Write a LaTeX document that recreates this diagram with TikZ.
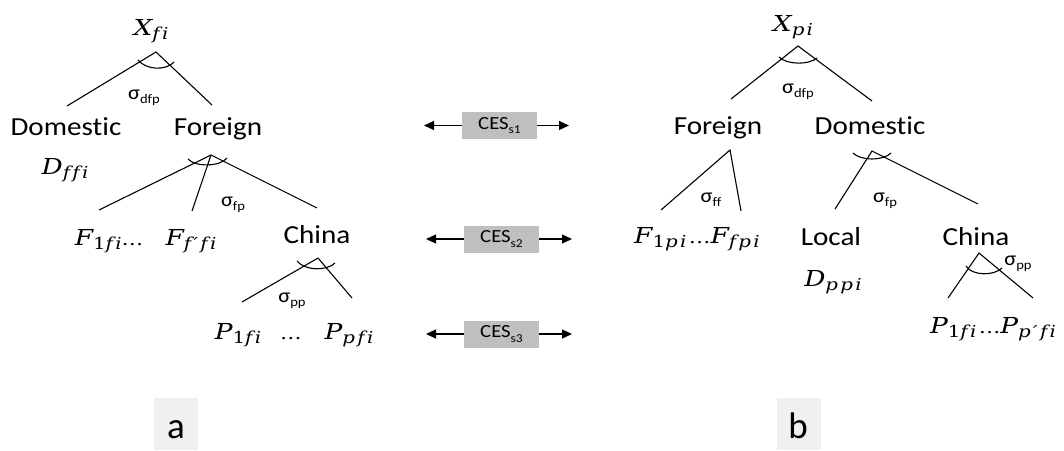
\documentclass[tikz,border=0pt]{standalone}
\usepackage{graphicx}
\usepackage{fontspec}
\setmainfont{Carlito}[FakeStretch=1.12, Ligatures=NoCommon]
\newfontfamily\plainfont{Carlito}
\newfontfamily\dvs{DejaVu Serif}[FakeStretch=1.2, Ligatures=NoCommon]
\newfontfamily\dvsub{DejaVu Serif}[FakeStretch=1.2, Ligatures=NoCommon, LetterSpace=14]
\usetikzlibrary{arrows.meta}
\definecolor{boxgray}{RGB}{191,191,191}
\definecolor{labgray}{RGB}{240,240,240}
\newcommand\mif{\dvs\itshape\fontsize{22}{22}\selectfont}
\newcommand\msub{\dvsub\itshape\fontsize{16.5}{16.5}\selectfont}
\newcommand\mv[2]{{\mif #1\raisebox{-0.22em}{\msub #2}}}
\newcommand\mdots{{\dvs\fontsize{18}{18}\selectfont\ldots}}
\newcommand\sg[1]{{\fontsize{20}{20}\selectfont σ\raisebox{-0.2em}{\fontsize{13}{13}\selectfont #1}}}
\newcommand\ces[1]{{\fontsize{18.5}{18.5}\selectfont CES\raisebox{-0.25em}{\fontsize{12}{12}\selectfont #1}}}
\tikzset{
  txt/.style={inner sep=0pt, anchor=base, font=\fontsize{26}{28}\selectfont},
  mth/.style={inner sep=0pt, anchor=base},
  sgl/.style={inner sep=0pt, anchor=base},
  cesbox/.style={fill=boxgray, minimum width=75pt, minimum height=27pt, inner sep=0pt},
  arr/.style={-{Triangle[length=10pt,width=9pt]}, line width=1.1pt},
  branch/.style={line width=1.1pt},
  labbox/.style={fill=labgray, minimum width=44pt, minimum height=52pt, inner sep=0pt},
  labtxt/.style={inner sep=0pt, anchor=base, font=\plainfont\fontsize{37}{40}\selectfont}
}
\begin{document}
\begin{tikzpicture}[x=1pt,y=-1pt]
\useasboundingbox (0,0) rectangle (1064,450);
\fill[white] (0,0) rectangle (1064,450);

% ---------- left tree ----------
\node[mth] (Xf) at (151,35) {\mv{X}{fi}};
\node[txt] (domL) at (66,135) {Domestic};
\node[txt] (forL) at (218,135) {Foreign};
\node[mth] (Dff) at (65,174) {\mv{D}{ffi}};
\node[mth] (F1f) at (109,245) {\mv{F}{{\upshape 1}fi}\mdots};
\node[mth] (Fpf) at (191,245) {\mv{F}{f′fi}};
\node[txt] (chL) at (317,243) {China};
\node[mth] (P1f) at (238,339) {\mv{P}{{\upshape 1}fi}};
\node[mth] (dotsL) at (291,339) {\mdots};
\node[mth] (Ppf) at (349,339) {\mv{P}{pfi}};
\node[sgl] (s1) at (144,99) {\sg{dfp}};
\node[sgl] (s2) at (233,206) {\sg{fp}};
\node[sgl] (s3) at (292,302) {\sg{pp}};

\coordinate (T1) at (156,52); \coordinate (T1a) at (67,106); \coordinate (T1b) at (212,105);
\coordinate (F1) at (211,155); \coordinate (F1a) at (99,210); \coordinate (F1b) at (192,211); \coordinate (F1c) at (317,208);
\coordinate (C1) at (318,258); \coordinate (C1a) at (242,302); \coordinate (C1b) at (352,298);
\draw[branch] (T1a) -- (T1) -- (T1b);
\draw[branch] (F1a) -- (F1) -- (F1c);
\draw[branch] (F1) -- (F1b);
\draw[branch] (C1a) -- (C1) -- (C1b);
\draw[branch] ([shift={(-18,8)}]T1) .. controls ([shift={(-10,18)}]T1) and ([shift={(10,19)}]T1) .. ([shift={(18,10)}]T1);
\draw[branch] ([shift={(-23,4)}]F1) .. controls ([shift={(-16,12)}]F1) and ([shift={(9,12)}]F1) .. ([shift={(16,3)}]F1);
\draw[branch] ([shift={(-21,3)}]C1) .. controls ([shift={(-13,13)}]C1) and ([shift={(9,13)}]C1) .. ([shift={(17,5)}]C1);

% ---------- middle ----------
\node[cesbox] (c1) at (499.5,125.5) {\ces{s1}};
\node[cesbox] (c2) at (501.5,239) {\ces{s2}};
\node[cesbox] (c3) at (501.5,334) {\ces{s3}};
\coordinate (l1) at (424,125.5); \coordinate (r1) at (569,125.5);
\coordinate (l2) at (426,239); \coordinate (r2) at (572,239);
\coordinate (l3) at (426,334); \coordinate (r3) at (572,334);
\draw[arr] (c1.west) -- (l1); \draw[arr] (c1.east) -- (r1);
\draw[arr] (c2.west) -- (l2); \draw[arr] (c2.east) -- (r2);
\draw[arr] (c3.west) -- (l3); \draw[arr] (c3.east) -- (r3);

% ---------- right tree ----------
\node[mth] (Xp) at (793,31) {\mv{X}{pi}};
\node[txt] (forR) at (718,134.5) {Foreign};
\node[txt] (domR) at (870,134.5) {Domestic};
\node[sgl] (s4) at (798,93) {\sg{dfp}};
\node[sgl] (s5) at (711,202) {\sg{ff}};
\node[sgl] (s6) at (885,202) {\sg{fp}};
\node[mth] (Fpp) at (697,243) {\mv{F}{{\upshape 1}pi} \mdots\mv{F}{fpi}};
\node[txt] (loc) at (831,245) {Local};
\node[mth] (Dpp) at (833,286) {\mv{D}{ppi}};
\node[txt] (chR) at (976,245) {China};
\node[sgl] (s7) at (1018,265) {\sg{pp}};
\node[mth] (Pr) at (993,333) {\mv{P}{{\upshape 1}fi} \mdots\mv{P}{p′fi}};

\coordinate (T2) at (798,46); \coordinate (T2a) at (731,99); \coordinate (T2b) at (872,101);
\coordinate (F2) at (730,150); \coordinate (F2a) at (661,210); \coordinate (F2b) at (741,211);
\coordinate (D2) at (872,151); \coordinate (D2a) at (835,209); \coordinate (D2b) at (978,204);
\coordinate (C2) at (979,253); \coordinate (C2a) at (948,298); \coordinate (C2b) at (1033,298);
\draw[branch] (T2a) -- (T2) -- (T2b);
\draw[branch] (F2a) -- (F2) -- (F2b);
\draw[branch] (D2a) -- (D2) -- (D2b);
\draw[branch] (C2a) -- (C2) -- (C2b);
\draw[branch] ([shift={(-19,11)}]T2) .. controls ([shift={(-11,19)}]T2) and ([shift={(11,19)}]T2) .. ([shift={(19,12)}]T2);
\draw[branch] ([shift={(-19,2)}]D2) .. controls ([shift={(-11,10)}]D2) and ([shift={(11,10)}]D2) .. ([shift={(19,2)}]D2);
\draw[branch] ([shift={(-13,13)}]C2) .. controls ([shift={(-7,23)}]C2) and ([shift={(15,23)}]C2) .. ([shift={(23,15)}]C2);

% ---------- panel labels ----------
\node[labbox] (la) at (176,424) {};
\node[labtxt] (ta) at (176,438) {a};
\node[labbox] (lb) at (799,424) {};
\node[labtxt] (tb) at (798,438) {b};
\end{tikzpicture}
\end{document}
